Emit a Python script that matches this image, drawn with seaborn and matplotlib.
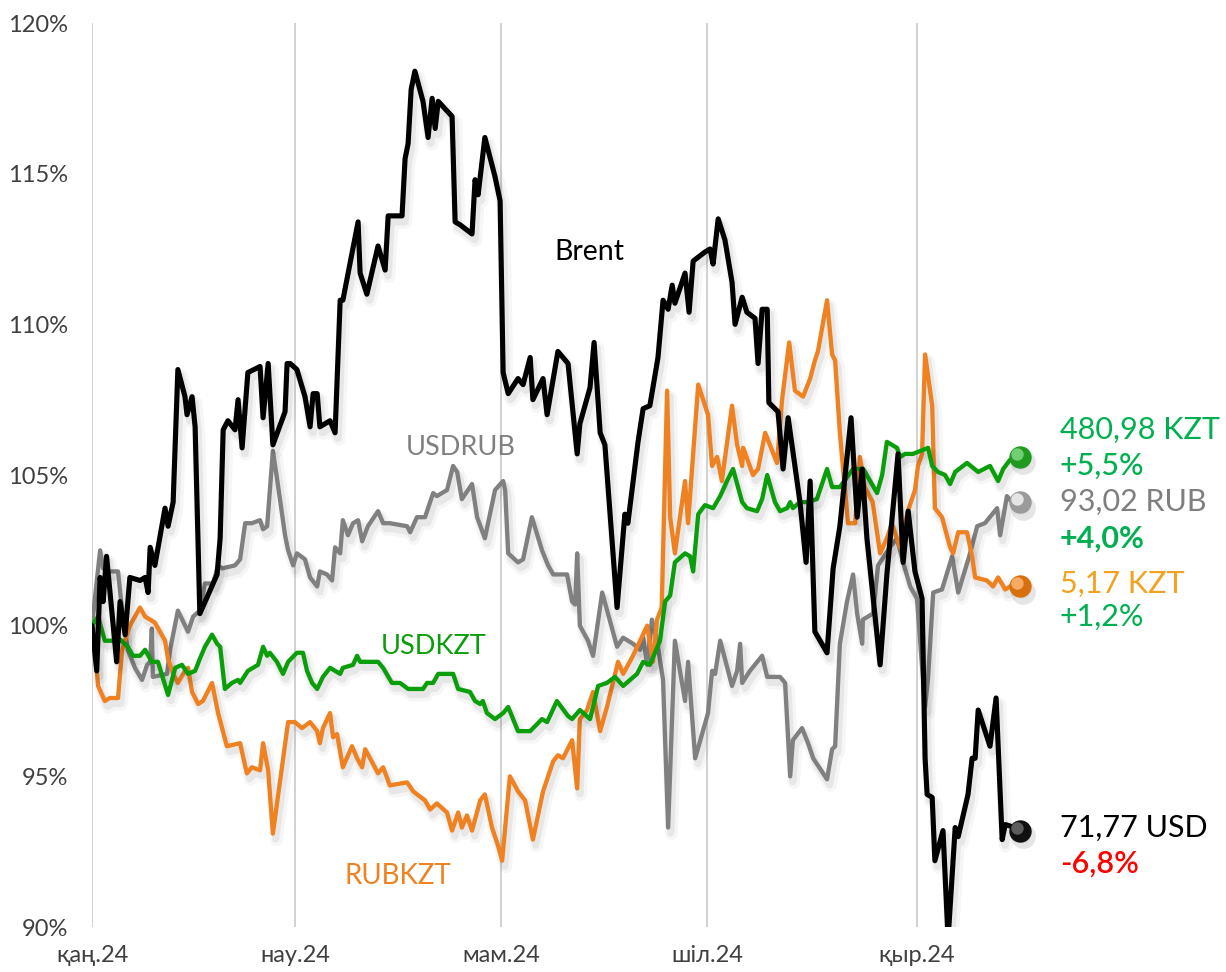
import numpy as np
import pandas as pd
import matplotlib
matplotlib.use("Agg")
import matplotlib.pyplot as plt
import matplotlib.patheffects as pe
import matplotlib.transforms as mtransforms
import seaborn as sns

# ---------------- data (day offsets from 2024-01-01, value in % of start) ----------------
brent_days = [0, 1.4, 2.4, 3.3, 4.3, 7.3, 8.3, 9.8, 11.2, 14.2, 15.7, 16.6, 17.2, 18.6, 21.6, 22.5, 24.0,
              25.4, 27.5, 28.1, 29.6, 30.5, 31.9, 37.0, 37.9, 38.8, 40.2, 42.3, 43.2, 44.4, 46.1, 49.7,
              50.6, 52.1, 53.5, 57.1, 57.7, 58.6, 60.6, 63.0, 64.5, 65.4, 66.6, 67.4, 70.4, 71.9, 73.4,
              74.2, 78.7, 79.3, 81.3, 84.6, 86.7, 87.6, 91.7, 92.6, 93.5, 94.4, 95.5, 97.9, 99.4, 100.6,
              101.5, 102.4, 106.5, 107.4, 108.9, 112.4, 113.3, 114.2, 116.2, 119.2, 120.7, 121.6, 123.1,
              126.0, 127.5, 129.6, 130.4, 133.4, 134.6, 137.8, 140.8, 143.5, 144.3, 147.3, 148.5, 150.3,
              151.7, 155.3, 157.6, 158.5, 161.5, 163.0, 165.0, 167.4, 168.9, 170.4, 171.6, 172.4, 175.4,
              176.6, 177.8, 181.3, 182.8, 183.7, 185.2, 187.2, 189.3, 190.2, 192.3, 193.7, 196.1, 197.0,
              198.2, 199.7, 200.2, 202.9, 204.4, 205.9, 207.9, 209.4, 211.2, 212.4, 213.8, 217.4, 219.2,
              221.2, 224.5, 226.3, 227.8, 229.2, 233.1, 235.1, 238.4, 239.9, 241.4, 243.4, 245.5, 246.4,
              247.0, 248.5, 249.3, 251.7, 253.2, 255.3, 256.2, 259.1, 260.3, 261.2, 262.1, 265.6, 267.4,
              269.2, 270.1, 273.0, 274.5]
brent_vals = [100.0, 98.5, 101.6, 100.8, 102.3, 98.8, 100.8, 99.7, 101.6, 101.5, 101.6, 101.1, 102.6, 102.0,
              103.9, 103.3, 104.1, 108.5, 107.6, 107.0, 107.6, 106.6, 100.4, 101.7, 102.9, 106.5, 106.8,
              106.5, 107.5, 105.9, 108.4, 108.6, 106.9, 108.7, 106.0, 107.1, 108.7, 108.7, 108.5, 107.6,
              106.6, 107.7, 107.7, 106.6, 106.8, 106.4, 110.8, 110.8, 113.4, 111.7, 111.0, 112.6, 111.8,
              113.6, 113.6, 115.5, 116.0, 117.8, 118.4, 117.4, 116.2, 117.5, 116.5, 117.4, 116.9, 113.4,
              113.3, 113.0, 114.8, 114.3, 116.2, 114.9, 114.1, 108.4, 107.7, 108.2, 108.0, 108.9, 107.5,
              108.2, 107.0, 109.1, 108.7, 105.7, 106.7, 107.9, 109.4, 106.4, 106.0, 100.6, 103.7, 103.4,
              106.1, 107.2, 107.3, 108.9, 110.8, 110.5, 111.3, 110.7, 111.7, 110.4, 112.1, 112.4, 112.5,
              112.0, 113.5, 112.8, 111.4, 110.0, 110.9, 110.4, 110.2, 108.7, 110.5, 110.5, 107.4, 107.1,
              105.2, 106.9, 105.3, 104.1, 102.1, 104.8, 99.8, 99.1, 101.9, 103.3, 106.9, 103.6, 105.2,
              102.9, 98.7, 101.7, 105.7, 102.1, 103.8, 101.8, 100.9, 95.6, 94.4, 94.3, 92.2, 93.2, 89.6,
              93.3, 93.0, 94.4, 95.6, 95.6, 97.2, 96.0, 97.6, 92.9, 93.4, 93.3, 93.2]

usdkzt_days = [0, 1.8, 3.8, 5.9, 7.7, 10.6, 12.1, 14.2, 15.7, 17.7, 19.5, 22.5, 24.6, 26.6, 28.4, 30.5, 31.9,
               33.4, 35.5, 37.0, 37.9, 39.3, 41.4, 43.2, 43.8, 46.1, 49.1, 50.6, 51.8, 52.6, 54.7, 56.5,
               58.0, 60.6, 62.4, 63.6, 65.1, 66.6, 68.3, 70.4, 71.9, 73.4, 74.2, 77.2, 78.4, 79.3, 84.6,
               86.1, 88.7, 91.1, 93.5, 95.0, 97.9, 99.1, 100.9, 102.4, 106.8, 108.3, 111.8, 113.3, 114.8,
               115.6, 116.8, 119.2, 121.6, 123.1, 126.0, 129.6, 133.1, 134.6, 137.5, 140.8, 142.0, 144.3,
               147.3, 149.7, 152.3, 154.7, 157.1, 161.2, 163.0, 165.0, 168.0, 169.5, 171.0, 172.4, 175.4,
               176.9, 177.8, 179.3, 181.3, 183.7, 185.8, 187.8, 189.6, 192.3, 193.7, 196.7, 198.2, 199.7,
               202.0, 203.5, 205.6, 206.5, 207.3, 209.4, 211.5, 214.4, 217.4, 218.9, 221.2, 225.1, 228.1,
               232.2, 233.7, 235.1, 238.1, 239.0, 240.5, 242.8, 247.3, 248.5, 250.2, 252.3, 253.8, 255.3,
               258.8, 262.1, 265.6, 268.0, 269.5, 271.5, 274.5]
usdkzt_vals = [100.0, 100.3, 99.5, 99.5, 99.6, 99.3, 99.0, 99.0, 99.2, 98.8, 98.8, 97.7, 98.6, 98.7, 98.4,
               98.5, 98.9, 99.3, 99.7, 99.4, 99.3, 97.9, 98.1, 98.2, 98.1, 98.5, 98.7, 99.3, 99.0, 99.1,
               98.8, 98.4, 98.8, 99.1, 99.1, 98.5, 98.1, 97.9, 98.3, 98.6, 98.5, 98.4, 98.6, 98.7, 99.0,
               98.8, 98.8, 98.6, 98.1, 98.1, 97.9, 97.9, 97.9, 98.1, 98.1, 98.4, 98.4, 97.9, 97.8, 97.5,
               97.4, 97.5, 97.1, 96.9, 97.1, 97.3, 96.5, 96.5, 96.9, 96.8, 97.5, 97.0, 96.9, 97.2, 96.9,
               98.0, 98.1, 98.3, 98.0, 98.4, 98.8, 98.7, 99.5, 100.8, 101.0, 102.1, 102.4, 102.3, 101.8,
               103.7, 104.0, 103.9, 104.3, 104.8, 105.2, 104.1, 103.9, 103.8, 104.2, 105.0, 104.1, 103.8,
               103.9, 104.1, 103.9, 104.1, 104.1, 104.2, 105.2, 104.6, 104.6, 105.2, 105.2, 104.4, 105.0,
               106.1, 105.9, 105.6, 105.7, 105.7, 105.9, 105.3, 105.1, 105.0, 104.7, 105.1, 105.4, 105.1,
               105.3, 104.8, 105.2, 105.5, 105.6]

usdrub_days = [0, 2.4, 3.3, 4.7, 7.7, 9.2, 10.6, 12.7, 14.8, 16.3, 17.2, 17.7, 18.0, 22.2, 23.1, 25.4, 28.4,
               29.9, 31.9, 33.4, 35.8, 37.3, 38.5, 42.3, 43.8, 45.3, 47.3, 49.7, 50.6, 51.8, 53.5, 54.7,
               57.1, 58.0, 59.5, 60.6, 63.0, 64.5, 66.6, 67.4, 69.5, 71.0, 71.9, 73.4, 74.2, 75.7, 77.2,
               78.7, 79.9, 81.6, 84.6, 86.1, 88.1, 93.2, 94.1, 96.1, 98.5, 100.9, 102.0, 105.0, 106.8,
               108.0, 109.4, 112.4, 113.9, 116.2, 119.2, 121.6, 122.2, 123.1, 126.0, 127.5, 130.1, 133.1,
               134.9, 136.4, 140.5, 142.0, 142.9, 143.5, 144.3, 146.7, 148.2, 150.9, 155.3, 157.1, 160.0,
               162.1, 163.0, 164.2, 165.6, 167.1, 168.9, 170.4, 172.4, 175.4, 176.3, 178.4, 182.2, 183.4,
               184.3, 185.8, 189.3, 190.8, 191.7, 192.3, 194.6, 198.2, 199.7, 203.5, 205.0, 206.5, 207.3,
               210.0, 211.8, 213.3, 217.4, 218.9, 219.8, 221.2, 223.3, 225.1, 226.3, 227.8, 228.0, 231.0,
               232.5, 236.0, 238.1, 239.9, 242.0, 244.0, 246.4, 247.3, 248.8, 251.4, 254.4, 256.2, 259.7,
               261.8, 264.1, 267.7, 268.6, 270.6, 272.1, 274.5]
usdrub_vals = [100.0, 102.5, 101.9, 101.8, 101.8, 100.2, 99.2, 98.6, 98.2, 98.7, 98.8, 99.9, 98.3, 98.4,
               99.2, 100.5, 99.8, 100.3, 100.5, 101.4, 101.4, 102.0, 101.9, 102.0, 102.2, 103.4, 103.4,
               103.5, 103.2, 103.3, 105.8, 104.9, 103.0, 102.5, 102.0, 102.4, 102.2, 101.6, 101.3, 101.8,
               101.7, 101.5, 102.6, 102.4, 103.5, 103.0, 103.4, 103.5, 102.8, 103.3, 103.8, 103.4, 103.4,
               103.3, 103.1, 103.6, 103.6, 104.4, 104.3, 104.5, 105.3, 105.1, 104.2, 104.7, 103.6, 102.9,
               104.5, 104.8, 104.5, 102.4, 102.1, 102.2, 103.6, 102.5, 102.0, 101.7, 101.7, 100.8, 100.7,
               102.4, 100.0, 99.5, 99.0, 101.1, 99.3, 99.6, 99.4, 99.2, 99.6, 98.7, 100.2, 99.5, 98.2,
               93.3, 99.5, 97.5, 98.8, 95.6, 97.1, 98.5, 98.4, 99.5, 98.0, 98.5, 99.4, 98.1, 98.5, 99.0,
               98.3, 98.3, 98.1, 95.0, 96.2, 96.6, 96.1, 95.6, 94.9, 95.9, 96.0, 99.4, 100.8, 101.7, 100.4,
               99.4, 100.2, 100.4, 102.0, 102.6, 102.9, 102.1, 101.3, 100.9, 97.3, 98.3, 101.1, 101.2,
               102.3, 101.1, 102.4, 103.3, 103.4, 103.9, 103.0, 104.3, 104.1, 104.1]

rubkzt_days = [0, 0.9, 1.8, 3.8, 5.3, 7.7, 8.9, 11.2, 14.2, 15.7, 17.2, 18.6, 21.6, 22.5, 24.0, 25.4, 27.5,
               28.4, 29.6, 31.4, 32.8, 35.5, 37.3, 39.9, 43.8, 45.8, 47.3, 49.7, 50.6, 52.1, 53.5, 58.0,
               60.0, 62.1, 64.5, 66.6, 67.4, 68.3, 70.4, 71.3, 72.5, 74.2, 76.9, 78.4, 79.9, 80.8, 84.6,
               86.1, 88.1, 93.2, 95.0, 98.5, 100.0, 102.0, 105.0, 106.5, 108.3, 109.4, 110.9, 112.4, 114.8,
               116.2, 118.3, 120.1, 121.3, 123.6, 126.0, 128.1, 130.4, 133.4, 136.4, 137.8, 139.3, 142.0,
               143.5, 144.3, 146.4, 148.2, 150.3, 152.3, 155.6, 157.1, 160.0, 164.2, 165.9, 167.1, 168.5,
               170.1, 171.0, 172.4, 175.4, 176.3, 179.3, 182.2, 183.4, 184.9, 186.3, 189.3, 190.8, 192.3,
               192.6, 195.5, 197.0, 199.1, 202.6, 204.1, 206.2, 207.9, 210.3, 212.4, 213.8, 214.7, 217.4,
               218.9, 219.8, 221.2, 223.6, 225.7, 227.1, 228.6, 230.9, 233.1, 235.1, 236.6, 238.9, 241.3,
               243.4, 244.3, 245.5, 246.4, 248.5, 249.3, 251.4, 253.8, 254.7, 256.2, 258.8, 260.3, 261.2,
               264.7, 266.5, 268.0, 270.1, 273.0, 274.5]
rubkzt_vals = [100.0, 99.2, 98.0, 97.5, 97.6, 97.6, 99.2, 100.0, 100.6, 100.3, 100.2, 100.1, 99.5, 98.9,
               98.4, 98.1, 98.5, 98.6, 97.8, 97.4, 97.5, 98.1, 97.1, 96.0, 96.1, 95.1, 95.3, 95.2, 96.1,
               95.2, 93.1, 96.8, 96.8, 96.6, 96.8, 96.5, 96.1, 96.6, 97.1, 96.3, 96.4, 95.3, 96.0, 95.6,
               95.3, 95.9, 95.1, 95.3, 94.7, 94.8, 94.5, 94.2, 93.9, 94.1, 93.8, 93.2, 93.8, 93.3, 93.7,
               93.2, 94.2, 94.4, 93.3, 92.7, 92.2, 95.0, 94.5, 94.2, 92.9, 94.5, 95.5, 95.7, 95.6, 96.2,
               94.6, 96.9, 97.2, 97.8, 96.5, 97.3, 98.8, 98.4, 99.0, 100.0, 98.8, 100.2, 100.6, 107.8,
               103.6, 102.4, 104.8, 103.4, 108.0, 107.0, 105.3, 105.6, 104.8, 107.3, 106.0, 105.3, 105.9,
               105.0, 105.2, 106.4, 105.4, 107.5, 109.4, 107.8, 107.6, 108.2, 108.8, 109.1, 110.8, 109.0,
               108.8, 106.4, 103.4, 103.4, 105.6, 104.6, 104.1, 102.4, 102.9, 103.4, 102.6, 103.8, 104.5,
               105.3, 105.7, 109.0, 107.3, 103.9, 103.6, 102.6, 102.4, 103.1, 103.1, 102.3, 101.6, 101.5,
               101.3, 101.6, 101.2, 101.4, 101.3]

month_ticks = ["2024-01-01", "2024-03-01", "2024-05-01", "2024-07-01", "2024-09-01"]
month_labels = ["қаң.24", "нау.24", "мам.24", "шіл.24", "қыр.24"]
y_ticks = [90, 95, 100, 105, 110, 115, 120]
y_labels = ["90%", "95%", "100%", "105%", "110%", "115%", "120%"]

series_names = ["USDRUB", "RUBKZT", "USDKZT", "Brent"]
end_texts = {
    "USDKZT": ("480,98 KZT", "+5,5%"),
    "USDRUB": ("93,02 RUB", "+4,0%"),
    "RUBKZT": ("5,17 KZT", "+1,2%"),
    "Brent": ("71,77 USD", "-6,8%"),
}

# ---------------- build frames ----------------
base = pd.Timestamp("2024-01-01")


def make_df(days, vals, name):
    d = base + pd.to_timedelta(np.array(days), unit="D")
    return pd.DataFrame({"date": d, "value": vals, "series": name})


frames = {
    "Brent": make_df(brent_days, brent_vals, "Brent"),
    "USDKZT": make_df(usdkzt_days, usdkzt_vals, "USDKZT"),
    "USDRUB": make_df(usdrub_days, usdrub_vals, "USDRUB"),
    "RUBKZT": make_df(rubkzt_days, rubkzt_vals, "RUBKZT"),
}

line_colors = {"Brent": "#000000", "USDKZT": "#0a9e0a", "USDRUB": "#808080", "RUBKZT": "#ef8121"}
line_widths = {"Brent": 3.7, "USDKZT": 3.1, "USDRUB": 3.1, "RUBKZT": 3.1}
ball_colors = {"Brent": ("#111111", "#777777"), "USDKZT": ("#1f9a1f", "#8fe08f"),
               "USDRUB": ("#9a9a9a", "#ffffff"), "RUBKZT": ("#d9700f", "#ffc080")}

# ---------------- figure ----------------
sns.set_theme(style="white")
plt.rcParams["font.family"] = ["Lato", "DejaVu Sans"]

fig = plt.figure(figsize=(12.26, 9.72), dpi=100)
ax = fig.add_axes([92 / 1226, 45 / 972, (1226 - 92) / 1226, (927 - 23) / 972])

x_end = base + pd.Timedelta(days=335.4)
ax.set_xlim(base, x_end)
ax.set_ylim(90, 120)

for name in series_names:
    df = frames[name]
    sns.lineplot(data=df, x="date", y="value", ax=ax, color=line_colors[name],
                 linewidth=line_widths[name], estimator=None, sort=False, legend=False)
    ln = ax.lines[-1]
    lw = line_widths[name]
    ln.set_solid_joinstyle("round")
    ln.set_solid_capstyle("round")
    ln.set_path_effects([
        pe.SimpleLineShadow(offset=(2.5, -4.5), shadow_color="#000000", alpha=0.035, linewidth=lw + 6),
        pe.SimpleLineShadow(offset=(2.0, -4.0), shadow_color="#000000", alpha=0.06, linewidth=lw + 2),
        pe.Normal(),
    ])

# end balls
for name in series_names:
    df = frames[name]
    xl, yl = df["date"].iloc[-1], df["value"].iloc[-1]
    dark, light = ball_colors[name]
    sh = mtransforms.offset_copy(ax.transData, fig=fig, x=2, y=-4, units="points")
    ax.scatter([xl], [yl], s=320, color="#000000", alpha=0.10, linewidths=0, transform=sh, zorder=5,
               clip_on=False)
    ax.scatter([xl], [yl], s=260, color=dark, linewidths=0, zorder=6, clip_on=False)
    hl = mtransforms.offset_copy(ax.transData, fig=fig, x=-2.2, y=2.2, units="points")
    ax.scatter([xl], [yl], s=80, color=light, alpha=0.75, linewidths=0, transform=hl, zorder=7,
               clip_on=False)

# gridlines / axes styling
tick_dates = pd.to_datetime(month_ticks)
ax.set_xticks(tick_dates)
ax.set_xticklabels(month_labels)
ax.set_yticks(y_ticks)
ax.set_yticklabels(y_labels)
for t in tick_dates:
    ax.axvline(t, color="#c9c9c9", linewidth=1.2, zorder=0)
ax.grid(False)
for s in ax.spines.values():
    s.set_visible(False)
ax.tick_params(axis="both", length=0, labelsize=17, labelcolor="#404040")
ax.tick_params(axis="y", pad=17)
ax.tick_params(axis="x", pad=13)
ax.set_xlabel("")
ax.set_ylabel("")


def dpos(day):
    return base + pd.Timedelta(days=day)


# series labels
ax.text(dpos(147), 112.4, "Brent", color="#000000", fontsize=20.5, ha="center", va="center")
ax.text(dpos(109), 105.9, "USDRUB", color="#808080", fontsize=19.5, ha="center", va="center")
ax.text(dpos(101), 99.3, "USDKZT", color="#0a9e0a", fontsize=19.5, ha="center", va="center")
ax.text(dpos(90.5), 91.7, "RUBKZT", color="#ef8121", fontsize=20, ha="center", va="center")

# end value labels
lx = dpos(286.3)
green_txt = "#00b050"
fs = 22
ax.text(lx, 106.5, end_texts["USDKZT"][0], color=green_txt, fontsize=fs, va="center", ha="left")
ax.text(lx, 105.3, end_texts["USDKZT"][1], color=green_txt, fontsize=fs, va="center", ha="left",
        fontweight="medium")
ax.text(lx, 104.1, end_texts["USDRUB"][0], color="#7f7f7f", fontsize=fs, va="center", ha="left")
ax.text(lx, 102.9, end_texts["USDRUB"][1], color=green_txt, fontsize=fs, va="center", ha="left",
        fontweight="bold")
ax.text(lx, 101.4, end_texts["RUBKZT"][0], color="#f2a21e", fontsize=fs, va="center", ha="left")
ax.text(lx, 100.3, end_texts["RUBKZT"][1], color=green_txt, fontsize=fs, va="center", ha="left")
ax.text(lx, 93.3, end_texts["Brent"][0], color="#000000", fontsize=fs, va="center", ha="left")
ax.text(lx, 92.1, end_texts["Brent"][1], color="#ff0000", fontsize=fs, va="center", ha="left",
        fontweight="semibold")

fig.savefig("out.png", dpi=100, facecolor="white")
